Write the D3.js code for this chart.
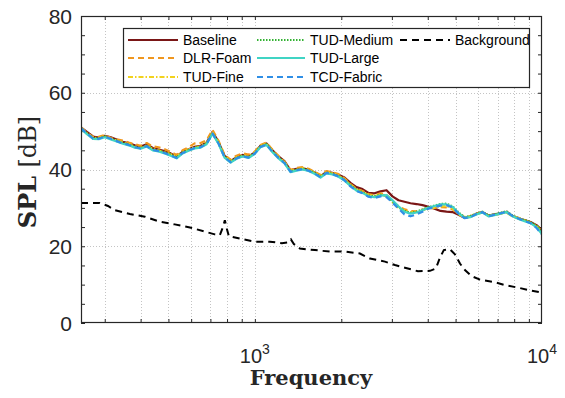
<!DOCTYPE html>
<html><head><meta charset="utf-8">
<script src="https://cdn.jsdelivr.net/npm/d3@7"></script>
<style>body{margin:0;background:#fff}svg{display:block}</style>
</head><body><svg id="c" width="565" height="398"></svg>
<script>
const freq=[248,260,273,286,300,315,330,347,364,382,400,420,441,462,485,509,534,560,588,617,647,679,712,747,784,823,863,906,950,997,1046,1098,1152,1209,1268,1331,1396,1465,1538,1613,1693,1776,1864,1956,2052,2153,2259,2371,2487,2610,2739,2874,3015,3164,3320,3484,3655,3836,4025,4223,4431,4650,4879,5120,5372,5637,5915,6207,6513,6834,7171,7524,7895,8285,8693,9122,9571,10000];
const baseline=[51.0,49.8,48.6,48.3,48.8,48.4,47.8,47.2,46.8,46.3,46.0,46.6,45.6,45.2,44.8,44.2,43.4,44.6,45.3,45.9,46.2,47.0,49.8,47.2,43.6,42.2,43.2,43.8,43.4,44.4,46.2,46.8,45.0,43.4,42.2,39.8,40.2,40.3,40.0,39.3,38.3,39.4,39.1,38.6,37.9,36.5,35.4,34.9,33.9,33.8,34.3,34.6,33.0,32.0,31.6,31.2,31.0,30.7,30.3,29.8,29.2,29.0,28.9,28.2,27.4,27.7,28.5,28.9,28.0,28.3,28.6,29.0,27.9,27.2,26.8,26.3,25.5,24.2];
const dlrFoam=[50.8,49.6,48.5,48.5,49.0,48.2,47.9,47.5,47.0,46.6,46.2,46.9,46.0,45.8,45.3,44.6,43.8,45.0,45.8,46.8,46.9,47.6,50.3,47.5,43.8,42.6,43.6,44.2,43.9,44.6,46.4,47.0,45.1,43.5,42.0,39.9,40.4,40.6,40.2,39.4,38.6,39.6,39.3,38.8,37.7,36.2,35.0,34.4,33.6,33.3,33.8,33.4,31.7,30.4,29.6,29.2,29.1,29.5,29.9,30.0,30.2,30.1,29.6,28.5,27.6,27.8,28.6,28.8,27.9,28.1,28.5,28.8,27.8,27.4,26.8,26.2,25.2,24.0];
const tudFine=[50.9,49.5,48.3,48.2,48.7,48.0,47.6,47.0,46.6,46.0,45.6,46.3,45.3,45.0,44.5,44.0,43.3,44.5,45.2,45.8,46.0,46.9,49.6,47.0,43.4,42.1,43.1,43.7,43.3,44.3,46.1,46.7,44.8,43.2,41.9,39.6,40.0,40.3,39.9,39.2,38.2,39.3,39.0,38.4,37.4,36.0,34.8,34.2,33.3,33.1,33.5,33.0,31.5,30.0,29.3,28.9,28.8,29.4,29.7,30.1,30.4,30.5,29.9,28.4,27.5,27.7,28.4,28.8,27.9,28.2,28.5,28.9,27.8,27.2,26.7,26.1,25.2,23.9];
const tudMedium=[50.7,49.4,48.2,48.1,48.6,48.0,47.5,46.9,46.5,45.9,45.6,46.2,45.2,44.9,44.4,43.9,43.2,44.4,45.1,45.7,45.9,46.8,49.5,46.9,43.3,42.0,43.0,43.6,43.2,44.2,46.0,46.6,44.7,43.1,41.8,39.5,39.9,40.2,39.8,39.1,38.1,39.2,38.9,38.3,37.3,35.9,34.7,34.1,33.2,33.0,33.4,33.2,31.8,30.2,29.2,28.7,29.0,29.6,30.2,30.6,31.0,31.1,30.4,28.8,27.6,27.9,28.5,29.0,28.0,28.3,28.7,29.1,28.0,27.3,26.8,26.3,25.3,24.0];
const tudLarge=[50.6,49.2,48.0,47.9,48.4,47.8,47.3,46.7,46.3,45.7,45.4,46.0,45.0,44.7,44.2,43.6,42.9,44.2,44.9,45.5,45.7,46.6,49.3,46.7,43.1,41.8,42.8,43.4,43.0,44.0,45.8,46.4,44.5,42.9,41.6,39.3,39.7,40.0,39.6,38.9,37.9,39.0,38.7,38.1,37.1,35.7,34.5,33.9,33.0,32.8,33.2,33.3,32.0,30.4,29.0,28.5,28.8,29.4,30.0,30.5,30.9,30.9,30.3,28.6,27.4,27.6,28.3,28.8,27.8,28.1,28.5,28.9,27.8,27.1,26.5,26.0,24.9,23.2];
const tcdFabric=[50.8,49.4,48.1,48.0,48.6,48.0,47.4,46.8,46.4,45.8,45.5,46.1,45.1,44.8,44.3,43.7,43.0,44.3,45.0,45.6,45.8,46.7,49.4,46.8,43.2,41.9,42.9,43.5,43.1,44.1,45.9,46.5,44.6,43.0,41.7,39.4,39.8,40.1,39.7,39.0,38.0,39.1,38.8,38.2,37.2,35.6,34.4,33.8,32.9,32.6,33.0,32.8,31.4,29.8,28.3,27.8,28.3,29.0,29.8,30.2,30.6,30.7,30.1,28.5,27.3,27.6,28.4,28.9,27.8,28.2,28.6,29.0,27.9,27.2,26.6,26.0,24.8,23.0];
const bgFreq=[248,288,308,325,367,414,467,526,594,670,725,755,774,786,799,812,886,1000,1128,1242,1303,1335,1367,1435,1619,1825,2059,2322,2516,2838,3075,3330,3697,4072,4270,4410,4550,4780,4975,5179,5390,5690,6081,6860,7420,8385,9083,10000];
const background=[31.3,31.3,30.5,29.4,28.4,27.7,26.4,25.7,24.9,23.8,23.1,22.9,25.0,26.8,24.5,22.6,22.0,21.2,21.2,20.8,21.0,21.8,20.6,19.4,19.0,18.6,18.6,18.1,16.8,16.0,15.1,14.4,13.5,13.6,14.2,17.0,19.0,19.2,17.9,15.5,13.8,12.2,11.3,10.6,9.9,9.1,8.5,7.9];

const names=["Baseline","DLR-Foam","TUD-Fine","TUD-Medium","TUD-Large","TCD-Fabric","Background"];
const colors=["#7a1616","#f0961e","#f2d21c","#33b233","#40d4c4","#2f8fe6","#000000"];
const dashes=[null,"6,4","5,2,1.5,2","1.5,1.5",null,"6,4","7,5"];
const yTicks=[0,20,40,60,80];
const yMinor=[0,5,10,15,20,25,30,35,40,45,50,55,60,65,70,75,80];
const xMajor=[1000,10000];
const xGrid=[300,400,500,600,700,800,900,1000,2000,3000,4000,5000,6000,7000,8000,9000];

const seriesVals=[baseline,dlrFoam,tudFine,tudMedium,tudLarge,tcdFabric];
const svg=d3.select("#c");
const L=81,R=542,T=16,B=323;
const x=d3.scaleLog().domain([248,10000]).range([L,R]);
const y=d3.scaleLinear().domain([0,80]).range([B,T]);
const px=v=>Math.round(v)+0.5;

// grid
svg.append("g").selectAll("line").data(xGrid).join("line")
  .attr("x1",d=>px(x(d))).attr("x2",d=>px(x(d))).attr("y1",T).attr("y2",B)
  .attr("stroke","#c4c4c4").attr("stroke-dasharray","1,2");
svg.append("g").selectAll("line").data(yTicks.filter(v=>v>0&&v<80)).join("line")
  .attr("y1",d=>px(y(d))).attr("y2",d=>px(y(d))).attr("x1",L).attr("x2",R)
  .attr("stroke","#c4c4c4").attr("stroke-dasharray","1,2");

// axes ticks (inward, all four sides)
const tickStyle=g=>{g.select(".domain").remove();g.selectAll(".tick line").attr("stroke","#262626");};
svg.append("g").attr("transform",`translate(0,${B})`).call(d3.axisBottom(x).tickValues(xGrid).tickSize(-4).tickFormat("")).call(tickStyle);
svg.append("g").attr("transform",`translate(0,${T})`).call(d3.axisTop(x).tickValues(xGrid).tickSize(-4).tickFormat("")).call(tickStyle);
svg.append("g").attr("transform",`translate(${L},0)`).call(d3.axisLeft(y).tickValues(yMinor).tickSize(-4).tickFormat("")).call(tickStyle);
svg.append("g").attr("transform",`translate(${R},0)`).call(d3.axisRight(y).tickValues(yMinor).tickSize(-4).tickFormat("")).call(tickStyle);

// lines
svg.append("defs").append("clipPath").attr("id","clip").append("rect").attr("x",L).attr("y",T).attr("width",R-L).attr("height",B-T);
const line=d3.line().x(d=>x(d[0])).y(d=>y(d[1]));
const plot=svg.append("g").attr("clip-path","url(#clip)");
seriesVals.forEach((vals,i)=>{
  plot.append("path").datum(freq.map((f,j)=>[f,vals[j]])).attr("d",line)
    .attr("fill","none").attr("stroke",colors[i]).attr("stroke-width",2.2)
    .attr("stroke-dasharray",dashes[i]).attr("stroke-linejoin","round");
});
plot.append("path").datum(bgFreq.map((f,j)=>[f,background[j]])).attr("d",line)
  .attr("fill","none").attr("stroke",colors[6]).attr("stroke-width",2).attr("stroke-dasharray",dashes[6]);

// box
svg.append("rect").attr("x",L+0.5).attr("y",T+0.5).attr("width",R-L-1).attr("height",B-T-1)
  .attr("fill","none").attr("stroke","#262626").attr("stroke-width",1.2);

// tick labels
svg.append("g").selectAll("text").data(yTicks).join("text")
  .attr("x",72).attr("y",d=>y(d)).attr("dy","0.36em").attr("text-anchor","end")
  .attr("font-family","Liberation Sans, Arial, sans-serif").attr("font-size",21).attr("fill","#262626")
  .text(d=>d);
const xl=svg.append("g").selectAll("text").data(xMajor).join("text")
  .attr("x",d=>x(d)).attr("y",363).attr("text-anchor","middle")
  .attr("font-family","Liberation Sans, Arial, sans-serif").attr("font-size",20).attr("fill","#262626");
xl.append("tspan").text("10");
xl.append("tspan").attr("dy",-9).attr("font-size",14).text(d=>Math.round(Math.log10(d)));

// axis titles
svg.append("text").attr("x",311).attr("y",385).attr("text-anchor","middle")
  .attr("font-family","DejaVu Serif, serif").attr("font-weight","bold").attr("font-size",21).attr("fill","#262626")
  .text("Frequency");
const yt=svg.append("text").attr("transform","translate(36,172) rotate(-90)").attr("text-anchor","middle")
  .attr("font-family","DejaVu Serif, serif").attr("font-size",24).attr("fill","#262626");
yt.append("tspan").attr("font-weight","bold").text("SPL ");
yt.append("tspan").text("[dB]");

// legend
const lg=svg.append("g");
lg.append("rect").attr("x",123.5).attr("y",28.5).attr("width",406).attr("height",59)
  .attr("fill","#fff").attr("stroke","#262626").attr("stroke-width",1.2);
const cols=[[128,178,183],[257,305,310],[400,450,455]];
const rows=[40,58,77];
names.forEach((n,i)=>{
  const c=cols[Math.floor(i/3)], r=rows[i%3];
  lg.append("line").attr("x1",c[0]).attr("x2",c[1]).attr("y1",r).attr("y2",r)
    .attr("stroke",colors[i]).attr("stroke-width",2).attr("stroke-dasharray",dashes[i]);
  lg.append("text").attr("x",c[2]).attr("y",r).attr("dy","0.35em")
    .attr("font-family","Liberation Sans, Arial, sans-serif").attr("font-size",14).attr("fill","#000").text(n);
});
</script>
</body></html>
